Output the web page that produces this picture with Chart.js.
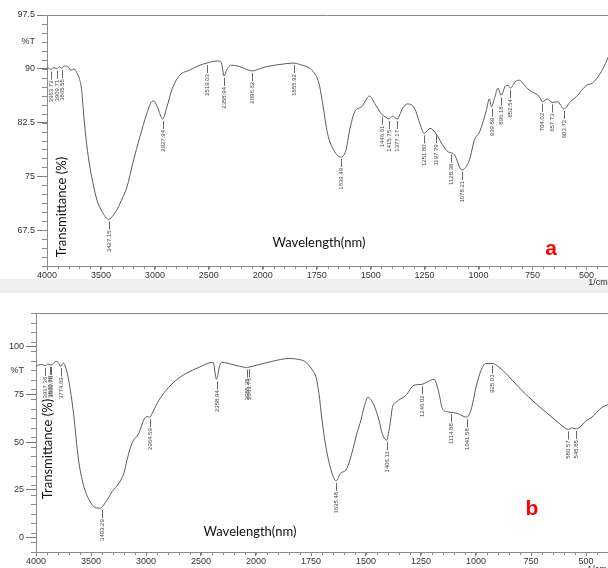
<!DOCTYPE html>
<html>
<head>
<meta charset="utf-8">
<script src="https://cdn.jsdelivr.net/npm/chart.js@4.4.0/dist/chart.umd.min.js"></script>
<style>
  html, body { margin: 0; padding: 0; background: #fff; }
  #page { position: relative; width: 608px; height: 568px; overflow: hidden; }
  #strip { position: absolute; left: 0; top: 279px; width: 608px; height: 14px; background: #efefef; }
  #boxA { position: absolute; left: 0; top: 0; width: 608px; height: 293px; }
  #boxB { position: absolute; left: 0; top: 293px; width: 608px; height: 275px; }
</style>
</head>
<body>
<div id="page">
  <div id="strip"></div>
  <div id="boxA"><canvas id="chartA"></canvas></div>
  <div id="boxB"><canvas id="chartB"></canvas></div>
</div>
<script>
// spectrum a
var wavenumbersA = [4000, 3985, 3963, 3940, 3910, 3885, 3865, 3835, 3800, 3780, 3750, 3725, 3700, 3680, 3662, 3640, 3610, 3570, 3537, 3490,
    3427, 3385, 3350, 3300, 3259, 3204, 3139, 3074, 3030, 3010, 2975, 2928, 2890, 2840, 2770, 2680, 2600, 2519, 2420, 2385,
    2359, 2330, 2290, 2213, 2150, 2097, 2030, 1982, 1920, 1856, 1829, 1790, 1769, 1740, 1720, 1700, 1670, 1640, 1615, 1597,
    1574, 1542, 1505, 1482, 1447, 1432, 1416, 1398, 1377, 1352, 1329, 1297, 1270, 1252, 1225, 1198, 1167, 1140, 1128, 1111,
    1078, 1042, 1019, 995, 963, 950, 940, 925, 910, 896, 875, 863, 852, 830, 810, 790, 764, 718, 704, 681,
    658, 634, 604, 575, 547, 500, 472, 431, 405, 400];
var transmittanceA = [90.0, 90.1, 89.9, 90.2, 90.0, 90.3, 90.1, 90.4, 90.2, 89.8, 90.0, 89.5, 88.6, 87.2, 84.0, 80.5, 77.0, 73.8, 71.7, 70.1,
    69.0, 69.6, 70.4, 72.0, 73.5, 76.9, 80.5, 83.8, 85.4, 85.5, 84.6, 83.0, 84.6, 87.2, 89.1, 89.8, 90.4, 90.8, 91.1, 90.9,
    89.0, 90.0, 90.5, 90.3, 89.9, 89.7, 90.0, 90.3, 90.6, 90.8, 90.6, 90.2, 89.7, 88.0, 84.7, 81.0, 78.6, 77.7, 78.6, 81.5,
    84.0, 84.7, 86.2, 85.2, 83.6, 83.3, 83.0, 83.4, 83.0, 84.5, 85.1, 84.5, 82.2, 81.0, 81.7, 81.0, 79.4, 78.4, 78.3, 78.0,
    75.9, 77.3, 80.1, 81.2, 84.3, 85.8, 84.7, 86.0, 87.3, 86.3, 87.6, 87.7, 87.3, 88.2, 88.4, 87.8, 87.0, 86.1, 85.4, 85.8,
    85.3, 85.4, 84.4, 85.4, 86.1, 87.7, 88.0, 89.6, 91.2, 91.6];
var peaksA = [3963.72, 3909.71, 3865.55, 3427.15, 2927.94, 2519.03, 2358.94, 2096.62, 1855.92, 1639.49, 1446.61, 1415.75,
    1377.17, 1251.80, 1197.79, 1128.38, 1078.21, 939.89, 896.18, 852.54, 704.02, 657.73, 603.72];

// spectrum b
var wavenumbersB = [4000, 3975, 3945, 3917, 3895, 3870, 3860, 3835, 3815, 3795, 3775, 3750, 3730, 3710, 3690, 3670, 3645, 3630, 3609, 3564,
    3518, 3473, 3450, 3420, 3364, 3309, 3245, 3200, 3173, 3127, 3064, 3018, 2990, 2965, 2945, 2882, 2818, 2727, 2636, 2518,
    2420, 2390, 2359, 2330, 2309, 2218, 2150, 2085, 2064, 2000, 1927, 1850, 1805, 1780, 1759, 1740, 1727, 1714, 1700, 1682,
    1659, 1636, 1614, 1591, 1564, 1541, 1523, 1509, 1491, 1464, 1441, 1427, 1406, 1395, 1388, 1380, 1364, 1318, 1282, 1246,
    1223, 1191, 1168, 1155, 1130, 1115, 1086, 1042, 1023, 1000, 977, 955, 925, 895, 864, 805, 745, 682, 623, 595,
    581, 563, 546, 518, 495, 473, 427, 405, 400];
var transmittanceB = [89.6, 90.3, 90.6, 89.9, 90.8, 90.4, 90.3, 91.6, 92.2, 91.4, 89.6, 91.3, 89.0, 84.5, 78.0, 70.0, 57.8, 49.0, 39.0, 26.6,
    19.8, 16.1, 15.6, 15.4, 18.8, 24.0, 28.6, 33.9, 40.6, 49.5, 54.7, 62.0, 63.3, 63.0, 65.0, 71.9, 77.0, 82.3, 85.9, 89.1,
    91.5, 91.7, 82.8, 90.1, 91.7, 90.6, 89.6, 89.0, 89.2, 90.1, 92.2, 93.7, 93.2, 92.3, 90.1, 87.0, 83.9, 75.5, 61.5, 47.4,
    35.4, 29.7, 33.9, 35.4, 44.3, 54.7, 61.5, 68.2, 73.4, 69.3, 61.5, 54.7, 51.0, 56.3, 61.5, 68.2, 70.8, 74.5, 79.7, 80.2,
    81.3, 82.8, 75.5, 68.2, 65.8, 65.6, 65.0, 63.0, 66.7, 78.6, 87.5, 91.1, 91.1, 89.1, 85.9, 78.6, 71.9, 65.6, 59.9, 57.3,
    56.6, 57.4, 56.8, 58.9, 61.5, 63.0, 68.2, 69.3, 69.6];
var peaksB = [3917.36, 3870.00, 3860.76, 3774.69, 3403.29, 2964.59, 2358.94, 2085.25, 2063.76, 1635.48, 1406.11, 1246.02,
    1114.88, 1041.58, 925.03, 580.57, 545.85];

// axis ticks
var xTicks = [4000, 3500, 3000, 2500, 2000, 1750, 1500, 1250, 1000, 750, 500];
var yTicksA = [67.5, 75, 82.5, 90, 97.5];
var yTicksB = [0, 25, 50, 75, 100];
var unitTickA = 93.75;
var unitTickB = 87.5;

// wavenumber axis: 500 per division above 2000, 250 per division below
function divisions(wn) {
    return wn >= 2000 ? (4000 - wn) / 500 : 4 + (2000 - wn) / 250;
}

class SplitWavenumberScale extends Chart.LinearScale {
    getPixelForValue(value) {
        return this.getPixelForDecimal(divisions(value) / divisions(this.min));
    }
    getValueForPixel(pixel) {
        let d = this.getDecimalForPixel(pixel) * divisions(this.min);
        return d <= 4 ? 4000 - d * 500 : 2000 - (d - 4) * 250;
    }
}
SplitWavenumberScale.id = "splitWavenumber";
SplitWavenumberScale.defaults = Chart.LinearScale.defaults;
Chart.register(SplitWavenumberScale);

// frame top line, minor ticks, peak labels and free text
var spectrumNotes = {
    id: "spectrumNotes",
    afterDraw(chart, args, opts) {
        let ctx = chart.ctx;
        let area = chart.chartArea;
        let xs = chart.scales.x;
        let ys = chart.scales.y;
        ctx.save();
        ctx.strokeStyle = "#8a8a8a";
        ctx.lineWidth = 1;
        ctx.beginPath();
        ctx.moveTo(area.left, area.top + 0.5);
        ctx.lineTo(area.right, area.top + 0.5);
        ctx.stroke();

        // minor ticks
        ctx.beginPath();
        for (let w = 4000; w >= 400; w -= (w > 2000 ? 100 : 50)) {
            let px = Math.round(xs.getPixelForValue(w)) + 0.5;
            ctx.moveTo(px, area.bottom);
            ctx.lineTo(px, area.bottom + 3);
        }
        for (let v = opts.yMin; v <= opts.yMax + 0.001; v += opts.yStep) {
            let py = Math.round(ys.getPixelForValue(v)) + 0.5;
            ctx.moveTo(area.left - 5, py);
            ctx.lineTo(area.left, py);
        }
        ctx.stroke();

        // peak labels
        let data = chart.data.datasets[0].data;
        ctx.strokeStyle = "#666";
        ctx.fillStyle = "#444";
        ctx.font = '6px "Liberation Sans"';
        opts.peaks.forEach((p) => {
            let near = data[0];
            data.forEach((d) => { if (Math.abs(d.x - p) < Math.abs(near.x - p)) near = d; });
            let px = Math.round(xs.getPixelForValue(p)) + 0.5;
            let py = ys.getPixelForValue(near.y);
            ctx.beginPath();
            ctx.moveTo(px, py + 2);
            ctx.lineTo(px, py + 10);
            ctx.stroke();
            ctx.save();
            ctx.translate(px, py + 11);
            ctx.rotate(-Math.PI / 2);
            ctx.textAlign = "right";
            ctx.textBaseline = "middle";
            ctx.fillText(p.toFixed(2), 0, 0);
            ctx.restore();
        });

        // free text
        opts.texts.forEach((t) => {
            ctx.save();
            ctx.translate(t.x, t.y);
            if (t.rotate) ctx.rotate(-Math.PI / 2);
            ctx.font = t.font;
            ctx.fillStyle = t.color;
            ctx.textAlign = "center";
            ctx.textBaseline = "middle";
            ctx.fillText(t.text, 0, 0);
            ctx.restore();
        });
        ctx.restore();
    }
};

function makeChart(canvasId, wns, vals, peaks, yTicks, unitTick, yMin, yMax, yStep, yWidth, xHeight, topPad, texts) {
    let points = wns.map((w, i) => ({ x: w, y: vals[i] }));
    let tickFont = { family: "Liberation Sans", size: 9 };
    return new Chart(document.getElementById(canvasId), {
        type: "line",
        data: {
            datasets: [{
                data: points,
                borderColor: "#5a5a5a",
                borderWidth: 1,
                pointRadius: 0,
                fill: false,
                cubicInterpolationMode: "monotone"
            }]
        },
        options: {
            responsive: true,
            maintainAspectRatio: false,
            animation: false,
            events: [],
            layout: { padding: { top: topPad, right: 0, left: 0, bottom: 0 } },
            plugins: {
                legend: { display: false },
                tooltip: { enabled: false },
                spectrumNotes: { peaks: peaks, texts: texts, yMin: yMin, yMax: yMax, yStep: yStep }
            },
            scales: {
                x: {
                    type: "splitWavenumber",
                    min: 400,
                    max: 4000,
                    afterBuildTicks: (scale) => { scale.ticks = xTicks.map((v) => ({ value: v })); },
                    afterFit: (scale) => { scale.height = xHeight; },
                    ticks: {
                        autoSkip: false,
                        maxRotation: 0,
                        padding: 0,
                        color: "#333",
                        font: tickFont,
                        callback: (v) => String(v)
                    },
                    grid: { drawOnChartArea: false, tickLength: 4, tickColor: "#777" },
                    border: { display: true, color: "#8a8a8a" }
                },
                y: {
                    min: yMin,
                    max: yMax,
                    afterBuildTicks: (scale) => {
                        scale.ticks = yTicks.concat([unitTick]).sort((a, b) => a - b).map((v) => ({ value: v }));
                    },
                    afterFit: (scale) => { scale.width = yWidth; },
                    ticks: {
                        autoSkip: false,
                        padding: 2,
                        color: "#333",
                        font: tickFont,
                        callback: (v) => (v === unitTick ? "%T" : String(v))
                    },
                    grid: {
                        drawOnChartArea: false,
                        tickLength: 10,
                        tickColor: (c) => (c.tick && c.tick.value === unitTick ? "rgba(0,0,0,0)" : "#777")
                    },
                    border: { display: true, color: "#8a8a8a" }
                }
            }
        },
        plugins: [spectrumNotes]
    });
}

var labelFont = '13px Lato';
var markFont = 'bold 21px "Liberation Sans"';

makeChart("chartA", wavenumbersA, transmittanceA, peaksA, yTicksA, unitTickA, 62.5, 97.5, 1.25, 47, 27, 15, [
    { text: "Transmittance (%)", x: 62, y: 207, rotate: true, font: labelFont, color: "#111" },
    { text: "Wavelength(nm)", x: 319, y: 243, font: labelFont, color: "#111" },
    { text: "a", x: 551, y: 249, font: markFont, color: "#f00" },
    { text: "1/cm", x: 598, y: 283, font: '9px "Liberation Sans"', color: "#333" }
]);

makeChart("chartB", wavenumbersB, transmittanceB, peaksB, yTicksB, unitTickB, -7.5, 117.5, 5, 36, 16, 20, [
    { text: "Transmittance (%)", x: 48, y: 156, rotate: true, font: labelFont, color: "#111" },
    { text: "Wavelength(nm)", x: 250, y: 239, font: labelFont, color: "#111" },
    { text: "b", x: 532, y: 216, font: markFont, color: "#f00" },
    { text: "1/cm", x: 597, y: 277, font: '9px "Liberation Sans"', color: "#333" }
]);
</script>
</body>
</html>
